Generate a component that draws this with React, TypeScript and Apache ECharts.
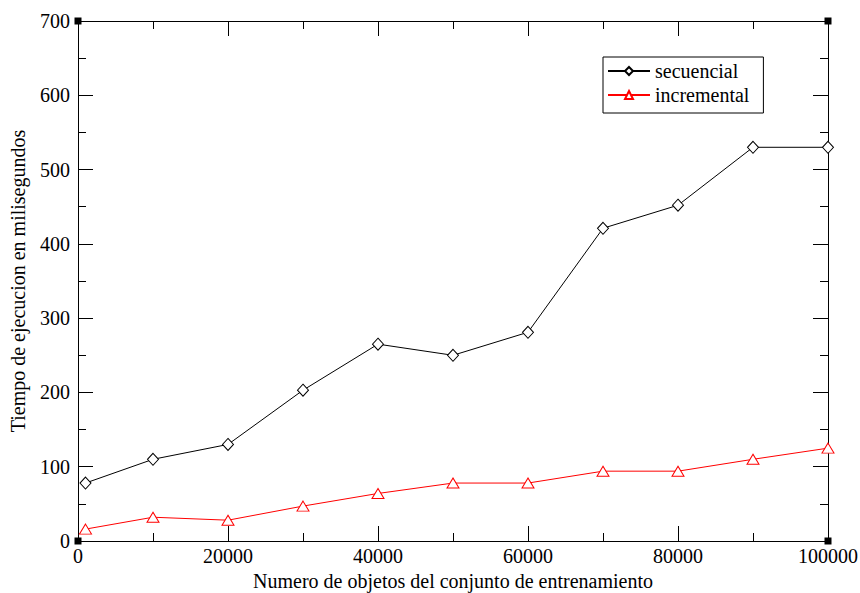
import React, { useEffect, useRef } from "react";
import * as echarts from "echarts";

const xValues = [1000, 10000, 20000, 30000, 40000, 50000, 60000, 70000, 80000, 90000, 100000];
const secuencial = [78, 110, 130, 203, 265, 250, 281, 421, 452, 530, 530];
const incremental = [16, 32, 28, 47, 64, 78, 78, 94, 94, 110, 125];
const seriesNames = ["secuencial", "incremental"];
const xTitle = "Numero de objetos del conjunto de entrenamiento";
const yTitle = "Tiempo de ejecucion en milisegundos";

const FONT = "'Liberation Serif', 'DejaVu Serif', serif";

export default function App() {
  const ref = useRef<HTMLDivElement>(null);
  useEffect(() => {
    if (!ref.current) return;
    const chart = echarts.init(ref.current, null, { renderer: "svg" });
    const G = { left: 78, top: 21, right: 32, bottom: 52 };
    const W = 860, H = 593;
    const sq = 7;
    const corner = (x: number, y: number) => ({
      type: "rect",
      shape: { x: x - sq / 2, y: y - sq / 2, width: sq, height: sq },
      style: { fill: "#000" },
      z: 100,
    });
    const tickCommon = {
      axisLine: { show: true, onZero: false, lineStyle: { color: "#000", width: 1 } },
      axisTick: { show: true, inside: true, length: 15, lineStyle: { color: "#000" } },
      minorTick: { show: true, splitNumber: 2, length: 8, lineStyle: { color: "#000" } },
      splitLine: { show: false },
    };
    const fmt = (v: number) => String(v);
    chart.setOption({
      animation: false,
      backgroundColor: "#fff",
      textStyle: { fontFamily: FONT },
      grid: {
        left: G.left,
        top: G.top,
        right: G.right,
        bottom: G.bottom,
        containLabel: false,
        outerBoundsMode: "none",
      },
      legend: {
        left: 603,
        top: 57,
        orient: "vertical",
        data: seriesNames,
        borderColor: "#000",
        borderWidth: 1,
        padding: [4, 14, 8, 4],
        itemGap: 4,
        itemWidth: 42,
        itemHeight: 10,
        textStyle: { fontFamily: FONT, fontSize: 20, color: "#000" },
      },
      xAxis: [
        {
          type: "value",
          min: 0,
          max: 100000,
          interval: 20000,
          position: "bottom",
          name: xTitle,
          nameLocation: "middle",
          nameGap: 23,
          nameTextStyle: { fontFamily: FONT, fontSize: 20, color: "#000" },
          axisLabel: { fontFamily: FONT, fontSize: 20, color: "#000", margin: 5, formatter: fmt },
          ...tickCommon,
        },
        {
          type: "value",
          min: 0,
          max: 100000,
          interval: 20000,
          position: "top",
          axisLabel: { show: false },
          ...tickCommon,
        },
      ],
      yAxis: [
        {
          type: "value",
          min: 0,
          max: 700,
          interval: 100,
          position: "left",
          name: yTitle,
          nameLocation: "middle",
          nameGap: 50,
          nameTextStyle: { fontFamily: FONT, fontSize: 20, color: "#000" },
          axisLabel: { fontFamily: FONT, fontSize: 20, color: "#000", margin: 8, formatter: fmt },
          ...tickCommon,
        },
        {
          type: "value",
          min: 0,
          max: 700,
          interval: 100,
          position: "right",
          axisLabel: { show: false },
          ...tickCommon,
        },
      ],
      series: [
        {
          name: seriesNames[0],
          type: "line",
          data: xValues.map((x, i) => [x, secuencial[i]]),
          symbol: "diamond",
          symbolSize: [11, 12],
          showAllSymbol: true,
          lineStyle: { color: "#000", width: 1 },
          itemStyle: { color: "#fff", borderColor: "#000", borderWidth: 1 },
          z: 3,
        },
        {
          name: seriesNames[1],
          type: "line",
          data: xValues.map((x, i) => [x, incremental[i]]),
          symbol: "triangle",
          symbolSize: [12, 10],
          showAllSymbol: true,
          lineStyle: { color: "#ff0000", width: 1 },
          itemStyle: { color: "#fff", borderColor: "#ff0000", borderWidth: 1 },
          z: 3,
        },
      ],
      graphic: [
        corner(G.left, G.top),
        corner(W - G.right, G.top),
        corner(G.left, H - G.bottom),
        corner(W - G.right, H - G.bottom),
      ],
    });
    return () => chart.dispose();
  }, []);
  return <div ref={ref} style={{ width: 860, height: 593, position: "absolute", left: 0, top: 0 }} />;
}
